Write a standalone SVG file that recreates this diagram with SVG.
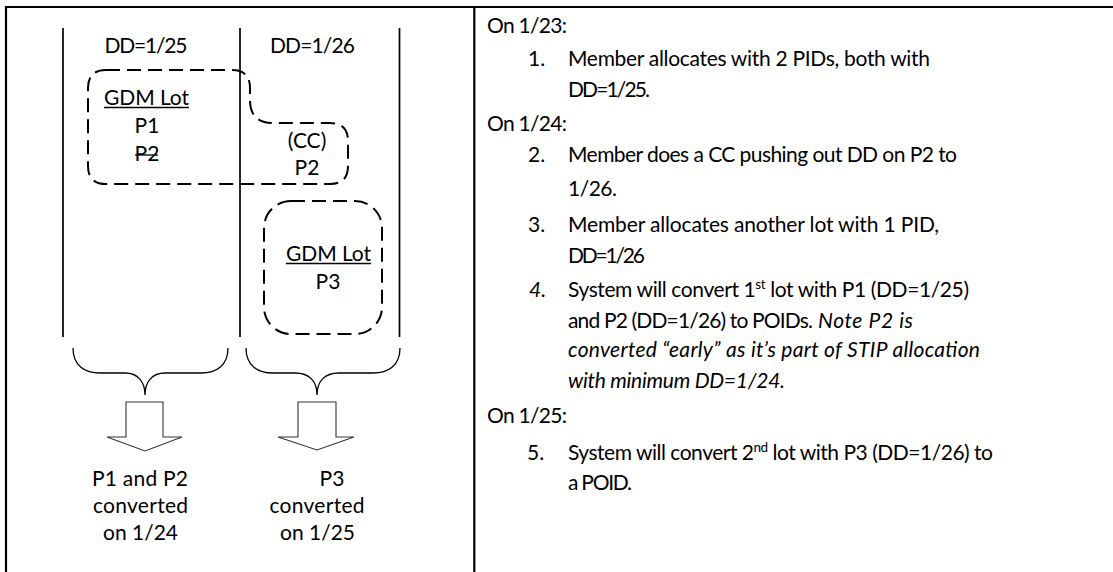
<svg xmlns="http://www.w3.org/2000/svg" width="1113" height="572" viewBox="0 0 1113 572">
  <style>
    .t { font-family: Lato, "Liberation Sans", sans-serif; font-size: 21px; fill: #000; }
    .c { text-anchor: middle; }
    .i { font-style: italic; }
    .sup { font-size: 13.5px; }
    .rule { stroke: #000; stroke-width: 2.2; fill: none; }
    .lane { stroke: #000; stroke-width: 1.7; fill: none; }
    .lot { stroke: #000; stroke-width: 2; fill: none; stroke-dasharray: 14 7; }
    .brace { stroke: #000; stroke-width: 1.3; fill: none; }
    .blockarrow { stroke: #333; stroke-width: 1.1; fill: #fff; stroke-linejoin: miter; }
    .ul { stroke: #000; stroke-width: 1.3; }
  </style>
  <rect width="1113" height="572" fill="#fff"/>

  <!-- table frame -->
  <g id="frame">
    <line class="rule" x1="5" y1="7" x2="1113" y2="7" stroke-width="2.6"/>
    <line class="rule" x1="6" y1="6" x2="6" y2="572"/>
    <line class="rule" x1="474.3" y1="7" x2="474.3" y2="572"/>
  </g>

  <!-- date lanes -->
  <g id="lane-dd25">
    <line class="lane" x1="63" y1="28" x2="63" y2="337"/>
    <text class="t c" x="146" y="53" textLength="83">DD=1/25</text>
  </g>
  <g id="lane-dd26">
    <line class="lane" x1="240" y1="28" x2="240" y2="337"/>
    <line class="lane" x1="399.5" y1="28" x2="399.5" y2="337"/>
    <text class="t c" x="312.5" y="53" textLength="85">DD=1/26</text>
  </g>

  <!-- first lot, with P2 moved by the CC -->
  <g id="lot-1">
    <path class="lot" d="M106,70 H232 Q250,70 250,88 V100 Q250,123 273,123 H330 Q348,123 348,141 V166 Q348,184 330,184 H106 Q88,184 88,166 V88 Q88,70 106,70 Z"/>
    <text class="t c" x="146.5" y="105" textLength="85">GDM Lot</text>
    <line class="ul" x1="104" y1="107.5" x2="189" y2="107.5"/>
    <text class="t c" x="147" y="133">P1</text>
    <text class="t c" x="147" y="161">P2</text>
    <line class="ul" x1="135" y1="155" x2="158" y2="155"/>
    <text class="t c" x="307" y="148">(CC)</text>
    <text class="t c" x="307" y="175">P2</text>
  </g>

  <!-- second lot -->
  <g id="lot-2">
    <rect class="lot" x="264" y="201" width="118" height="133" rx="27" ry="27"/>
    <text class="t c" x="328.5" y="261" textLength="85">GDM Lot</text>
    <line class="ul" x1="286" y1="263.5" x2="371" y2="263.5"/>
    <text class="t c" x="328" y="289">P3</text>
  </g>

  <!-- braces and block arrows -->
  <g id="connectors">
    <path class="brace" d="M73,348 C73,366 85,373 100,373 H125 C138,373 145,382 145,395 C145,382 152,373 165,373 H201 C216,373 228,366 228,348"/>
    <path class="brace" d="M246,348 C246,366 258,373 273,373 H295 C310,373 317,382 317,395 C317,382 324,373 339,373 H373 C388,373 400,366 400,348"/>
    <polygon class="blockarrow" points="126,402 163,402 163,437 182,437 145,451 107,437 126,437"/>
    <polygon class="blockarrow" points="298,402 336,402 336,437 354,437 317,450 278,437 298,437"/>
  </g>

  <g id="result-1">
    <text class="t c" x="140" y="486" textLength="96">P1 and P2</text>
    <text class="t c" x="140.5" y="513" textLength="95">converted</text>
    <text class="t c" x="140.5" y="540" textLength="75">on 1/24</text>
  </g>
  <g id="result-2">
    <text class="t c" x="332" y="486">P3</text>
    <text class="t c" x="317" y="513" textLength="95">converted</text>
    <text class="t c" x="317.5" y="540" textLength="75">on 1/25</text>
  </g>

  <!-- timeline notes -->
  <g id="notes">
    <text class="t" x="487" y="33" textLength="80">On 1/23:</text>
    <text class="t" x="528" y="66">1.</text>
    <text class="t" x="568" y="66" textLength="362">Member  allocates with 2 PIDs, both with</text>
    <text class="t" x="568" y="97" textLength="82">DD=1/25.</text>

    <text class="t" x="487" y="131" textLength="80">On 1/24:</text>
    <text class="t" x="528" y="162">2.</text>
    <text class="t" x="568" y="162" textLength="389">Member  does a CC pushing out DD on P2 to</text>
    <text class="t" x="568" y="196" textLength="49">1/26.</text>

    <text class="t" x="528" y="232">3.</text>
    <text class="t" x="568" y="232" textLength="371">Member  allocates another lot with 1 PID,</text>
    <text class="t" x="568" y="263" textLength="77">DD=1/26</text>

    <text class="t i" x="529" y="297">4.</text>
    <text class="t" x="568" y="297" textLength="401">System will convert 1<tspan class="sup" dy="-8">st</tspan><tspan dy="8"> lot with P1 (DD=1/25)</tspan></text>
    <text class="t" x="568" y="328" textLength="245">and P2 (DD=1/26) to POIDs.</text>
    <text class="t i" x="818" y="328" textLength="95">Note P2 is</text>
    <text class="t i" x="568" y="357" textLength="412">converted  “early” as it’s part of STIP allocation</text>
    <text class="t i" x="568" y="388" textLength="217">with minimum DD=1/24.</text>

    <text class="t" x="487" y="423" textLength="80">On 1/25:</text>
    <text class="t" x="527" y="460" font-size="22">5.</text>
    <text class="t" x="568" y="460" textLength="425">System will convert 2<tspan class="sup" dy="-8">nd</tspan><tspan dy="8"> lot with P3 (DD=1/26) to</tspan></text>
    <text class="t" x="568" y="490" textLength="64">a POID.</text>
  </g>
</svg>
